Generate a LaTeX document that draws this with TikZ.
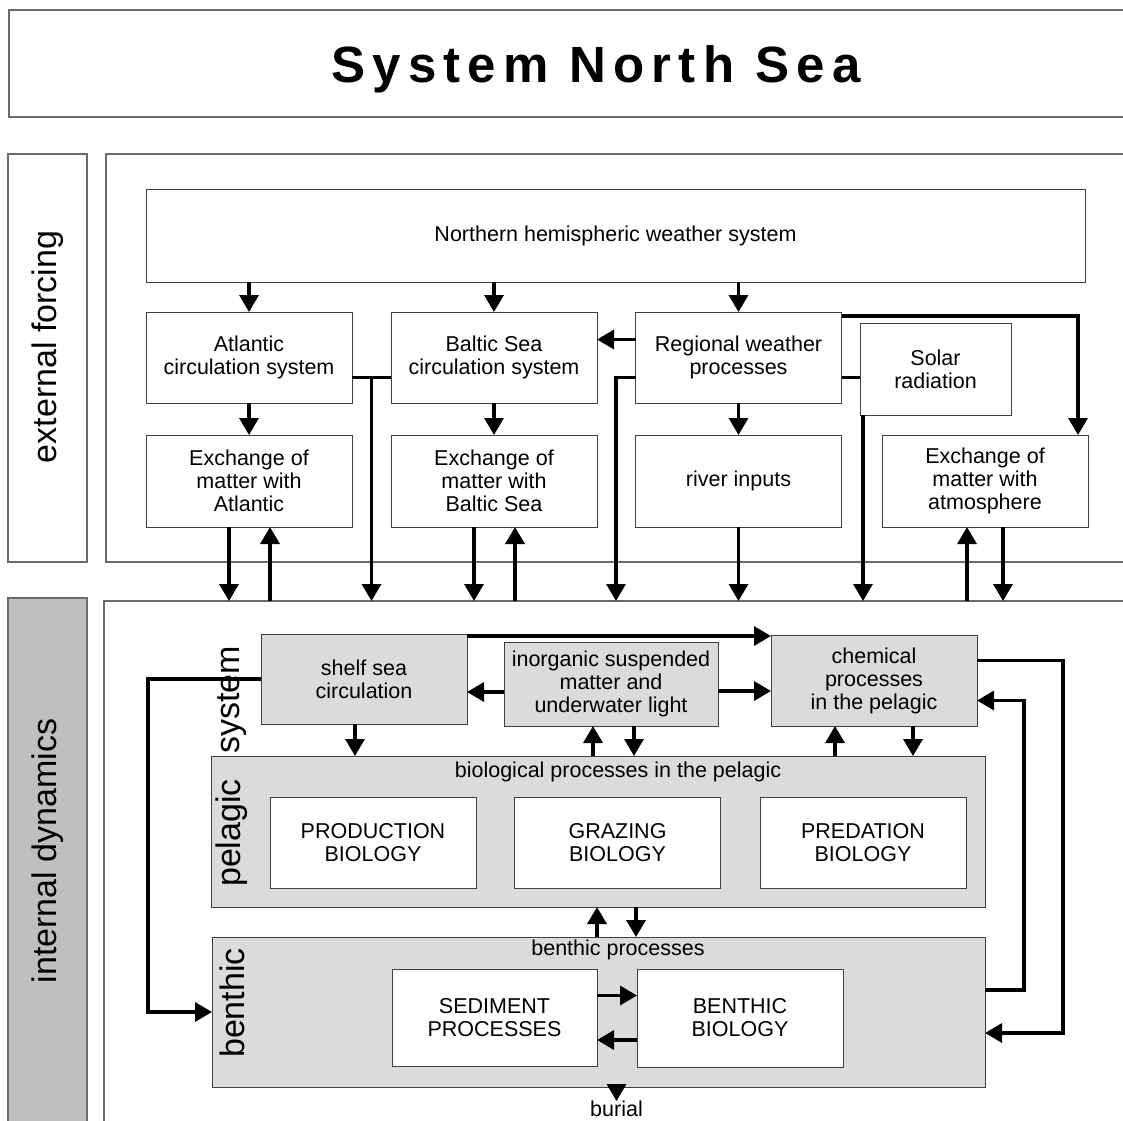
\documentclass[tikz,border=0pt]{standalone}
\usepackage{fontspec}
\setmainfont{Liberation Sans}
\newfontfamily\titlefont{Liberation Sans}[LetterSpace=14]
\usetikzlibrary{arrows.meta}

\definecolor{boxgray}{gray}{0.86}
\definecolor{labgray}{gray}{0.75}
\definecolor{framegray}{gray}{0.42}

\begin{document}
\begin{tikzpicture}[x=1pt,y=-1pt,font=\fontsize{21.5}{23}\selectfont]
    \def\bw{206pt}
    \def\bh{91pt}

    \tikzset{
        box/.style={draw=black!75, line width=0.9pt, fill=white,
            inner sep=0pt, outer sep=0pt,
            minimum width=\bw, minimum height=\bh, align=center},
        gbox/.style={box, fill=boxgray},
        frame/.style={draw=framegray, line width=1.2pt,
            inner sep=0pt, outer sep=0pt, anchor=north west},
        side/.style={font=\fontsize{34}{40}\selectfont, rotate=90},
        ln/.style={line width=3.3pt},
        arr/.style={ln, -{Triangle[length=17pt,width=19pt]}}
    }

    \useasboundingbox (0,0) rectangle (1123,1120);

    % title
    \node[frame, minimum width=1200pt, minimum height=107pt] (ttlfr) at (9,10) {};
    \node[font=\titlefont\fontsize{51}{56}\selectfont\bfseries] (ttl) at (596,69) {System North Sea};

    % external forcing
    \node[frame, minimum width=79pt, minimum height=408pt] (extlab) at (8,154) {};
    \node[side] (extlabtxt) at (48,347) {external forcing};
    \node[frame, minimum width=1100pt, minimum height=408pt] (extfr) at (106,154) {};

    \node[box, minimum width=939pt, minimum height=93pt] (north) at (615.5,235.5) {Northern hemispheric weather system};
    \node[box] (atl)   at (249,357.5)   {Atlantic\\circulation system};
    \node[box] (balt)  at (494,357.5)   {Baltic Sea\\circulation system};
    \node[box] (reg)   at (738.5,357.5) {Regional weather\\processes};
    \node[box, minimum width=151pt, minimum height=92pt] (solar) at (935.5,369) {Solar\\radiation};
    \node[box, minimum height=92pt] (exatl)  at (249,481)   {Exchange of\\matter with\\Atlantic};
    \node[box, minimum height=92pt] (exbalt) at (494,481)   {Exchange of\\matter with\\Baltic Sea};
    \node[box, minimum height=92pt] (river)  at (738.5,481) {river inputs};
    \node[box, minimum height=92pt] (exatm)  at (985,481)   {Exchange of\\matter with\\atmosphere};

    % internal dynamics
    \node[frame, fill=labgray, minimum width=79pt, minimum height=600pt] (intlab) at (8,598) {};
    \node[side] (intlabtxt) at (48,851) {internal dynamics};
    \node[frame, minimum width=1100pt, minimum height=600pt] (intfr) at (104,601) {};

    \node[gbox, minimum width=774pt, minimum height=151pt] (pel)   at (598,831.5) {};
    \node[gbox, minimum width=773pt, minimum height=150pt] (benth) at (598.5,1012) {};
    \node (peltxt)   at (618,772) {biological processes in the pelagic};
    \node (benthtxt) at (618,950) {benthic processes};
    \node[side] (syslab)   at (232,700)  {system};
    \node[side] (pellab)   at (232,833)  {pelagic};
    \node[side] (benthlab) at (232,1003) {benthic};

    \node[gbox, minimum height=90pt] (shelf) at (364,679) {shelf sea\\circulation};
    \node[gbox, minimum width=214pt, minimum height=84pt] (inorg) at (611,684) {inorganic suspended\\matter and\\underwater light};
    \node[gbox] (chem) at (874,680.5) {chemical\\processes\\in the pelagic};

    \node[box] (prod) at (373,842.5)   {PRODUCTION\\BIOLOGY};
    \node[box] (graz) at (617.5,842.5) {GRAZING\\BIOLOGY};
    \node[box] (pred) at (863,842.5)   {PREDATION\\BIOLOGY};
    \node[box, minimum width=205pt, minimum height=97pt] (sed)  at (494.5,1017.5) {SEDIMENT\\PROCESSES};
    \node[box, minimum height=98pt] (bbio) at (740,1018) {BENTHIC\\BIOLOGY};

    % forcing arrows
    \draw[arr] (north.south -| atl.north) -- (atl.north);
    \draw[arr] (north.south -| balt.north) -- (balt.north);
    \draw[arr] (north.south -| reg.north) -- (reg.north);
    \draw[arr] (atl.south) -- (exatl.north);
    \draw[arr] (balt.south) -- (exbalt.north);
    \draw[arr] (reg.south) -- (river.north);
    \draw[arr] ([yshift=18pt]reg.west) -- ([yshift=18pt]reg.west -| balt.east);
    \draw[arr] ([yshift=-4pt]reg.north east) -| ([xshift=-10pt]exatm.north east);

    \draw[ln] ([yshift=-20pt]atl.east) -- coordinate[midway] (j1) ([yshift=-20pt]atl.east -| balt.west);
    \draw[arr] (j1) -- (j1 |- intfr.north);
    \draw[arr] ([yshift=-20pt]reg.west) -- ++(-19.5,0) coordinate (j2) -- (j2 |- intfr.north);
    \draw[ln] ([yshift=-20pt]reg.east) -- ([yshift=-20pt]reg.east -| solar.west);
    \draw[arr] ([xshift=3pt]solar.south west) -- ([xshift=3pt]solar.south west |- intfr.north);

    \draw[arr] ([xshift=-20pt]exatl.south) -- ([xshift=-20pt]exatl.south |- intfr.north);
    \draw[arr] ([xshift=21pt]exatl.south |- intfr.north) -- ([xshift=21pt]exatl.south);
    \draw[arr] ([xshift=-20pt]exbalt.south) -- ([xshift=-20pt]exbalt.south |- intfr.north);
    \draw[arr] ([xshift=21pt]exbalt.south |- intfr.north) -- ([xshift=21pt]exbalt.south);
    \draw[arr] (river.south) -- (river.south |- intfr.north);
    \draw[arr] ([xshift=-18pt]exatm.south |- intfr.north) -- ([xshift=-18pt]exatm.south);
    \draw[arr] ([xshift=18pt]exatm.south) -- ([xshift=18pt]exatm.south |- intfr.north);

    % internal arrows
    \draw[arr] ([yshift=-2pt]shelf.north east) -- ([yshift=-2pt]shelf.north east -| chem.west);
    \draw[arr] ([yshift=-8pt]inorg.west) -- ([yshift=-8pt]inorg.west -| shelf.east);
    \draw[arr] ([yshift=-7pt]inorg.east) -- ([yshift=-7pt]inorg.east -| chem.west);
    \draw[arr] (shelf.west) -- ++(-113,0) |- (benth.west);
    \draw[arr] ([xshift=-9pt]shelf.south) -- ([xshift=-9pt]shelf.south |- pel.north);
    \draw[arr] ([xshift=-18pt]inorg.south |- pel.north) -- ([xshift=-18pt]inorg.south);
    \draw[arr] ([xshift=23pt]inorg.south) -- ([xshift=23pt]inorg.south |- pel.north);
    \draw[arr] ([xshift=-39pt]chem.south |- pel.north) -- ([xshift=-39pt]chem.south);
    \draw[arr] ([xshift=39pt]chem.south) -- ([xshift=39pt]chem.south |- pel.north);
    \draw[arr] ([xshift=-1pt]pel.south |- benth.north) -- ([xshift=-1pt]pel.south);
    \draw[arr] ([xshift=38pt]pel.south) -- ([xshift=38pt]pel.south |- benth.north);
    \draw[arr] ([yshift=22pt]sed.east) -- ([yshift=22pt]sed.east -| bbio.west);
    \draw[arr] ([yshift=-22pt]bbio.west) -- ([yshift=-22pt]bbio.west -| sed.east);
    \draw[arr] ([yshift=20pt]chem.east) -- ++(86,0) |- ([yshift=-21pt]benth.east);
    \draw[arr] ([yshift=22pt]benth.east) -- ++(39,0) |- ([yshift=-20pt]chem.east);
    \draw[arr] ([xshift=18pt]benth.south) -- ++(0,14) coordinate (bur);
    \node[anchor=north, inner sep=0pt] (burial) at (bur) {burial};

\end{tikzpicture}
\end{document}
